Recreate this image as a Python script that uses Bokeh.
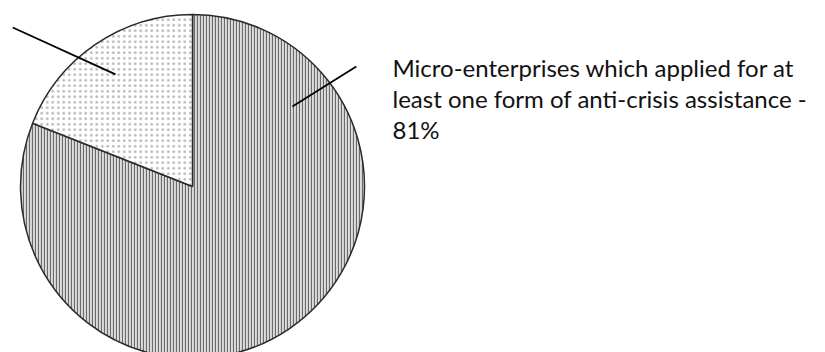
import math
from bokeh.plotting import figure
from bokeh.models import Range1d, ColumnDataSource
from bokeh.core.properties import value
from bokeh.embed import file_html
from bokeh.resources import INLINE

# ---- data ----
slice_names = ["Applied for anti-crisis assistance", "Did not apply"]
shares = [81, 19]
label_lines = [
    "Micro-enterprises which applied for at",
    "least one form of anti-crisis assistance -",
    "81%",
]

# ---- layout / style ----
W, H = 825, 352
cx, cy, R = 192, H - 186, 172
hatch_patterns = ["vertical_line", "dot"]
hatch_colors = ["#6a6a6a", "#b8b8b8"]
fill_colors = ["#dcdcdc", "#ffffff"]
hatch_scales = [3, 5.5]
hatch_weights = [1.2, 1.0]

p = figure(width=W, height=H, output_backend="svg", toolbar_location=None,
           x_range=Range1d(0, W), y_range=Range1d(0, H),
           x_axis_type=None, y_axis_type=None, min_border=0)
p.grid.visible = False
p.outline_line_color = None
p.background_fill_color = "white"
p.border_fill_color = "white"

total = float(sum(shares))
starts, ends = [], []
cum = 0.0
for s in shares:
    a0 = math.pi / 2 - (cum + s) / total * 2 * math.pi
    a1 = math.pi / 2 - cum / total * 2 * math.pi
    starts.append(a0)
    ends.append(a1)
    cum += s

src = ColumnDataSource(dict(name=slice_names, start=starts, end=ends,
                            fill=fill_colors, hatch=hatch_patterns,
                            hcol=hatch_colors, hscale=hatch_scales,
                            hw=hatch_weights))
p.wedge(x=cx, y=cy, radius=R, start_angle="start", end_angle="end",
        direction="anticlock", source=src, fill_color="fill",
        hatch_pattern="hatch", hatch_color="hcol", hatch_scale="hscale",
        hatch_weight="hw", line_color="#2b2b2b", line_width=1.5)

# leader lines (polar positions relative to centre: angle deg, radius)
lead_start = [(38.7, 128), (124.5, 136)]
lead_end = [(36.2, 203), (138.5, 240)]
x0 = [cx + r * math.cos(math.radians(a)) for a, r in lead_start]
y0 = [cy + r * math.sin(math.radians(a)) for a, r in lead_start]
x1 = [cx + r * math.cos(math.radians(a)) for a, r in lead_end]
y1 = [cy + r * math.sin(math.radians(a)) for a, r in lead_end]
p.segment(x0=x0, y0=y0, x1=x1, y1=y1, line_color="black", line_width=1.8)

tx = 392
ty = [H - 66.5 - i * 31 for i in range(len(label_lines))]
p.text(x=[tx] * len(label_lines), y=ty, text=label_lines,
       text_font=value("Lato"), text_font_size="24px",
       text_color="#111111", text_baseline="alphabetic", text_align="left")

open("out.html", "w").write(file_html(p, INLINE))
